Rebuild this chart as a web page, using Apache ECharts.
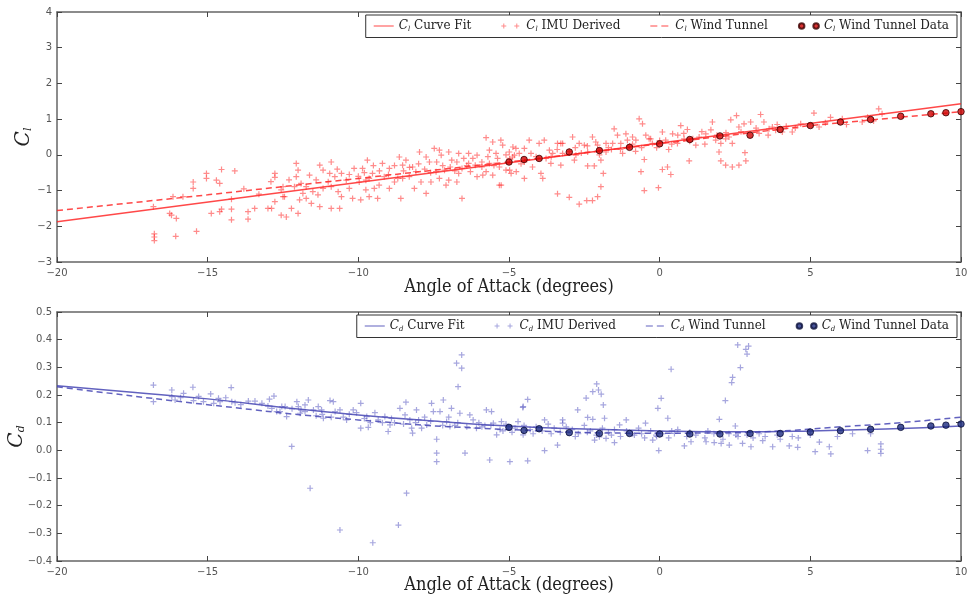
<!DOCTYPE html>
<html>
<head>
<meta charset="utf-8">
<script src="https://cdn.jsdelivr.net/npm/echarts@6/dist/echarts.min.js"></script>
<style>html,body{margin:0;padding:0;background:#fff}#c{width:967px;height:597px}</style>
</head>
<body>
<div id="c"></div>
<script>
// ---------- data ----------
const xTicks = [-20, -15, -10, -5, 0, 5, 10];
const clTicks = [-3, -2, -1, 0, 1, 2, 3, 4];
const cdTicks = [-0.4, -0.3, -0.2, -0.1, 0.0, 0.1, 0.2, 0.3, 0.4, 0.5];

const clFitX = [-20, 10];
const clFitY = [-1.87, 1.43];
const clTunnelX = [-20, -15, -10, -5, 0, 5, 10];
const clTunnelY = [-1.56, -1.12, -0.66, -0.2, 0.31, 0.82, 1.21];

const tunnelAoA = [-5, -4.5, -4, -3, -2, -1, 0, 1, 2, 3, 4, 5, 6, 7, 8, 9, 9.5, 10];
const clTunnelData = [-0.2, -0.13, -0.1, 0.08, 0.12, 0.21, 0.31, 0.43, 0.53, 0.55, 0.71, 0.82, 0.92, 0.99, 1.08, 1.15, 1.18, 1.21];
const cdTunnelData = [0.083, 0.072, 0.078, 0.064, 0.061, 0.061, 0.059, 0.059, 0.059, 0.061, 0.061, 0.066, 0.071, 0.076, 0.083, 0.088, 0.091, 0.095];

const cdFitX = [-20, -17.5, -15, -12.5, -10, -7.5, -5, -2.5, 0, 2.5, 5, 7.5, 10];
const cdFitY = [0.233, 0.21, 0.186, 0.155, 0.128, 0.106, 0.088, 0.077, 0.07, 0.067, 0.07, 0.077, 0.088];
const cdTunnelX = [-20, -15, -10, -5, 0, 2, 4, 6, 8, 10];
const cdTunnelY = [0.23, 0.165, 0.11, 0.075, 0.062, 0.063, 0.07, 0.085, 0.1, 0.12];

const clImu = [
 [-16.77,-2.21],[-16.77,-2.3],[-16.77,-2.4],[-16.8,-1.45],[-16.26,-1.64],[-16.2,-1.69],[-16.04,-1.78],[-16.06,-2.28],
 [-16.15,-1.17],[-15.82,-1.17],[-15.48,-0.76],[-15.48,-0.94],[-15.37,-2.14],[-15.04,-0.52],[-15.04,-0.66],[-14.71,-0.71],
 [-14.54,-0.41],[-14.6,-0.8],[-14.1,-0.45],[-14.88,-1.64],[-14.6,-1.59],[-14.54,-1.52],[-14.21,-1.24],[-14.21,-1.52],
 [-14.21,-1.82],[-13.66,-1.59],[-13.66,-1.8],[-13.44,-1.5],[-13.0,-1.5],[-12.77,-0.52],[-12.77,-0.63],[-12.77,-1.31],
 [-12.56,-0.98],[-12.45,-1.17],[-12.88,-1.5],[-12.5,-0.89],
 [-12.06,-0.24],[-12.0,-0.43],[-12.06,-0.61],[-11.62,-0.57],[-11.28,-0.29],[-11.17,-0.43],[-10.9,-0.2],[-10.95,-0.52],
 [-10.78,-0.61],[-10.56,-0.52],[-10.4,-0.71],[-11.73,-0.89],[-11.51,-1.03],[-11.34,-1.12],[-11.17,-0.94],[-10.9,-0.89],
 [-10.67,-1.03],[-10.56,-1.17],[-11.95,-1.26],[-11.73,-1.22],[-11.56,-1.36],[-11.28,-1.45],[-10.9,-1.5],[-10.62,-1.5],
 [-12.22,-1.5],[-12.0,-1.64],[-12.5,-1.17],[-12.56,-1.69],[-12.39,-1.74],[-12.12,-0.89],[-11.84,-1.08],
 [-9.7,-0.15],[-9.2,-0.24],[-8.97,-0.38],[-9.86,-0.38],[-10.14,-0.38],[-9.53,-0.52],[-9.14,-0.61],[-9.64,-0.66],
 [-9.97,-0.76],[-9.31,-0.85],[-8.97,-0.94],[-10.3,-0.94],[-9.75,-0.98],[-9.47,-0.94],[-10.19,-1.22],[-9.92,-1.26],
 [-9.64,-1.17],[-9.36,-1.22],[-8.8,-0.76],[-8.69,-0.66],[-9.75,-0.71],
 [-8.64,-0.06],[-8.42,-0.15],[-7.97,0.08],[-7.75,-0.06],[-7.48,0.18],[-7.31,0.13],[-7.25,-0.01],[-8.53,-0.29],
 [-8.2,-0.34],[-7.64,-0.2],[-8.09,-0.47],[-8.31,-0.61],[-7.92,-0.76],[-7.59,-0.76],[-7.31,-0.66],[-7.09,-0.85],
 [-8.53,-0.66],[-8.14,-0.94],[-7.75,-1.08],[-8.59,-1.22],[-7.42,-0.47],[-7.14,-0.43],
 [-7.0,0.08],[-6.67,0.04],[-6.34,0.04],[-6.06,-0.01],[-6.5,-0.1],[-6.73,-0.2],[-6.34,-0.24],[-6.12,-0.29],
 [-6.95,-0.34],[-6.56,-0.38],[-5.9,-0.34],[-6.67,-0.52],[-6.28,-0.47],[-6.06,-0.61],[-6.73,-0.76],[-6.56,-1.22],
 [-7.0,-0.71],[-5.87,-0.57],
 [-5.76,0.48],[-5.54,0.36],[-5.27,0.41],[-5.21,0.27],[-5.65,0.13],[-5.43,0.04],[-5.38,-0.1],[-5.65,-0.24],
 [-5.32,-0.34],[-4.98,-0.43],[-5.76,-0.47],[-5.54,-0.57],[-5.32,-0.85],[-4.87,0.22],[-4.82,-0.01],[-4.98,-0.1],[-4.76,-0.47],
 [-4.99,0.08],[-4.88,-0.06],[-5.1,-0.43],[-4.93,-0.52],[-5.26,-0.85],[-4.77,0.18],[-4.66,0.04],[-4.49,0.18],
 [-4.49,-0.2],[-4.49,-0.66],[-4.33,0.41],[-4.27,0.04],[-4.22,-0.34],[-4.0,0.32],[-3.94,-0.52],[-3.88,-0.66],
 [-3.83,0.41],[-3.77,-0.1],[-3.66,0.13],[-3.61,-0.24],[-3.55,0.04],[-3.39,0.32],[-3.28,0.32],[-3.22,0.32],
 [-3.28,-0.29],[-3.22,0.04],[-3.39,-1.09],[-3.0,-1.19],[-2.67,-1.38],[-2.42,-1.28],[-2.23,-1.28],[-2.06,-1.17],
 [-1.95,-0.89],[-1.87,-0.52],[-1.95,-0.15],[-2.89,0.5],[-2.78,-0.01],[-2.83,-0.15],[-2.67,0.32],[-2.5,0.27],
 [-2.39,0.08],[-2.39,-0.31],[-2.17,-0.31],[-2.23,0.5],[-2.12,0.36],[-2.06,0.27],[-2.01,0.13],[-1.78,0.08],
 [-1.78,0.32],[-1.56,0.32],[-1.51,0.73],[-1.4,0.55],[-1.29,0.32],[-1.23,0.04],[-1.12,0.59],[-1.07,0.41],
 [-0.9,0.5],[-0.79,0.41],[-0.68,1.01],[-0.57,0.87],[-0.62,-0.47],[-0.51,-0.13],[-0.51,-1.0],[-0.46,0.55],
 [-0.35,0.45],[-0.24,0.32],[-0.04,-0.92],[0.09,-0.41],[0.26,-0.34],[0.37,-0.55],[0.09,0.64],[0.2,0.41],
 [0.43,0.59],[0.59,0.32],[0.81,0.45],[0.92,0.71],[0.98,-0.17],[1.2,0.27],[1.31,0.5],[1.53,0.59],
 [1.75,0.92],[1.86,0.41],[1.97,0.08],[2.03,-0.17],[2.19,-0.29],[2.41,-0.34],[2.63,-0.29],[2.86,-0.17],
 [2.83,0.06],[2.03,0.32],[2.19,0.45],[2.36,0.98],[2.55,1.1],[2.41,0.32],[2.63,0.78],[2.8,0.87],
 [3.02,0.92],[3.35,1.13],[3.46,0.92],[3.63,0.73],[3.74,0.78],[3.85,0.69],[4.07,0.64],[4.4,0.64],
 [4.68,0.87],[5.12,1.17],[5.29,0.78],[5.67,1.05],[6.06,1.01],[6.72,0.92],[7.27,1.29],[7.38,1.15],
 [-0.1,0.2],[0.3,0.15],[0.6,0.55],[1.0,0.38],[1.5,0.3],[-1.0,0.25],[-0.8,0.1],[-1.6,0.15],[-2.6,0.05],
 [3.3,0.6],[3.9,0.85],[4.5,0.75],[5.5,0.9],[6.2,0.85],[6.9,1.05],[7.1,0.95],[2.2,0.62],[1.7,0.7],[0.7,0.82],
 [-13.8,-0.95],[-13.3,-1.1],[-12.9,-0.75],[-12.3,-0.7],[-11.9,-0.8],[-11.4,-0.7],[-11.0,-0.75],[-10.7,-0.4],
 [-10.3,-0.55],[-10.0,-0.6],[-9.8,-0.5],[-9.5,-0.3],[-9.3,-0.45],[-9.0,-0.55],[-8.8,-0.3],[-8.5,-0.45],
 [-8.3,-0.35],[-8.0,-0.25],[-7.8,-0.4],[-7.6,-0.5],[-7.4,-0.2],[-7.2,-0.3],[-6.9,-0.15],[-6.8,-0.45],
 [-6.4,-0.3],[-6.2,-0.1],[-5.9,-0.2],[-5.7,-0.05],[-5.5,-0.3],[-5.1,0.0],[-4.6,-0.25],[-4.1,-0.05],
 [-3.6,-0.05],[-3.4,0.15],[-3.0,0.1],[-2.8,0.2],[-2.4,0.25],[-2.0,0.0],[-1.7,0.2],[-1.3,0.15],
 [-0.9,0.3],[-0.6,0.2],[-0.3,0.45],[0.0,0.4],[0.4,0.3],[0.8,0.6],[1.1,0.45],[1.4,0.65],
 [1.9,0.55],[2.3,0.5],[2.7,0.65],[3.2,0.75],[3.6,0.55],[4.2,0.8]
];

const cdImu = [
 [-16.8,0.236],[-16.8,0.176],[-16.19,0.218],[-16.19,0.194],[-16.08,0.182],[-15.8,0.206],[-15.49,0.228],[-15.47,0.18],
 [-15.14,0.176],[-14.9,0.204],[-14.64,0.188],[-14.59,0.176],[-14.22,0.227],[-14.2,0.176],[-14.09,0.172],[-13.65,0.178],
 [-13.43,0.178],[-12.8,0.196],[-12.87,0.152],[-12.71,0.14],[-12.54,0.158],[-12.43,0.158],[-12.38,0.122],[-12.21,0.014],
 [-12.04,0.176],[-11.99,0.158],[-11.93,0.134],[-11.77,0.164],[-11.77,0.14],[-11.66,0.182],[-11.6,-0.137],[-11.49,0.146],
 [-11.33,0.158],[-11.22,0.146],[-11.16,0.116],[-10.94,0.18],[-10.83,0.176],[-10.77,0.14],[-10.61,0.146],[-10.61,-0.288],
 [-10.39,0.11],[-10.17,0.146],[-10.06,0.136],[-9.92,0.17],[-9.92,0.08],[-9.72,0.122],[-9.67,0.083],[-9.52,-0.334],
 [-9.45,0.136],[-9.34,0.11],[-9.12,0.122],[-9.01,0.068],[-8.95,0.092],[-8.67,-0.27],[-8.62,0.152],[-8.45,0.128],
 [-8.42,0.174],[-8.4,-0.155],[-8.29,0.11],[-8.23,0.08],[-8.2,0.062],[-8.07,0.146],[-7.9,0.08],[-7.73,0.092],
 [-7.57,0.17],[-7.51,0.14],[-7.4,0.04],[-7.4,-0.01],[-7.4,-0.041],[-7.29,0.14],[-7.18,0.182],[-7.07,0.104],
 [-6.96,0.086],[-6.91,0.152],[-6.74,0.315],[-6.69,0.23],[-6.63,0.134],[-6.57,0.345],[-6.57,0.297],[-6.46,-0.01],
 [-6.3,0.128],[-6.19,0.11],[-6.08,0.08],[-5.75,0.146],[-5.64,-0.035],[-5.58,0.14],[-5.52,0.098],[-5.41,0.056],
 [-5.25,0.104],[-5.03,0.083],[-4.97,-0.041],[-4.7,0.104],[-4.53,0.158],[-4.53,0.056],
 [-13.2,0.17],[-12.95,0.185],[-11.4,0.125],[-10.5,0.12],[-9.6,0.1],[-8.8,0.1],[-8.0,0.11],[-7.8,0.12],[-7.0,0.12],
 [-6.8,0.09],[-6.0,0.1],[-5.8,0.09],[-5.3,0.075],[-5.1,0.095],[-4.8,0.08],
 [-4.54,0.155],[-4.38,0.184],[-4.38,-0.038],[-3.82,0.11],[-3.82,-0.001],[-3.39,0.019],[-3.22,0.11],[-3.22,0.098],
 [-2.72,0.146],[-2.44,0.189],[-2.39,0.119],[-2.22,0.212],[-2.22,0.112],[-2.09,0.24],[-2.03,0.218],[-1.94,0.203],
 [-1.87,0.164],[-1.83,0.116],[-2.16,0.037],[-2.0,0.049],[-1.78,0.043],[-1.5,0.028],[-1.33,0.092],[-1.11,0.11],
 [-0.84,0.055],[-0.47,0.098],[-0.23,0.037],[-0.12,0.055],[-0.06,0.152],[-0.03,-0.001],[0.05,0.188],[0.27,0.116],
 [0.38,0.293],[0.49,0.061],[0.82,0.016],[1.04,0.031],[1.54,0.031],[1.81,0.028],[1.98,0.112],[2.04,0.025],
 [2.18,0.18],[2.31,0.019],[2.39,0.245],[2.42,0.264],[2.51,0.088],[2.59,0.381],[2.68,0.299],[2.86,0.365],
 [2.9,0.348],[2.95,0.377],[2.53,0.055],[2.75,0.025],[3.03,0.013],[3.42,0.035],[3.75,0.013],[4.3,0.016],
 [4.58,0.011],[5.16,-0.005],[5.63,0.013],[5.68,-0.013],[6.9,-0.001],[7.34,0.023],[7.34,0.004],[7.34,-0.011],
 [-4.5,0.09],[-4.3,0.075],[-4.1,0.085],[-3.9,0.07],[-3.7,0.095],[-3.5,0.08],[-3.3,0.065],[-3.1,0.085],
 [-2.9,0.075],[-2.7,0.06],[-2.5,0.09],[-2.3,0.07],[-2.1,0.055],[-1.9,0.08],[-1.7,0.065],[-1.5,0.075],
 [-1.3,0.05],[-1.1,0.07],[-0.9,0.06],[-0.7,0.08],[-0.5,0.045],[-0.3,0.07],[-0.1,0.05],[0.1,0.06],
 [0.3,0.045],[0.6,0.075],[0.9,0.05],[1.2,0.055],[1.5,0.045],[1.8,0.06],[2.1,0.04],[2.6,0.05],
 [3.1,0.045],[3.5,0.05],[4.0,0.04],[4.6,0.045],[5.3,0.03],
 [-15.9,0.19],[-15.3,0.195],[-14.8,0.17],[-14.4,0.19],[-13.9,0.165],[-13.0,0.16],[-12.6,0.14],[-12.2,0.15],
 [-11.9,0.145],[-11.2,0.13],[-10.9,0.12],[-10.3,0.13],[-9.8,0.115],[-9.2,0.1],[-8.9,0.115],[-8.5,0.095],
 [-8.1,0.1],[-7.6,0.105],[-7.2,0.09],[-6.7,0.1],[-6.4,0.085],[-5.9,0.085],[-5.6,0.09],[-5.2,0.07],
 [-4.9,0.065],[-4.2,0.06],[-3.6,0.06],[-2.8,0.05],[-2.4,0.065],[-1.6,0.055],[-0.6,0.06],[0.4,0.07],
 [1.0,0.065],[1.6,0.07],[2.3,0.06],[2.9,0.055],[3.3,0.06],[3.9,0.055],[4.4,0.05],[5.0,0.055],
 [5.9,0.05],[6.4,0.06],[7.0,0.06]
];

// ---------- helpers ----------
const pair = (xs, ys) => xs.map((x, i) => [x, ys[i]]);
const minus = s => String(s).replace('-', '\u2212');
const PLUS = 'path://M4,0H6V4H10V6H6V10H4V6H0V4H4Z';
const TWO_PLUS = 'path://M2,0.5H3V2.5H5V3.5H3V5.5H2V3.5H0V2.5H2Z M15,0.5H16V2.5H18V3.5H16V5.5H15V3.5H13V2.5H15Z M0,0H0.01V6H0Z M19.99,0H20V6H19.99Z';
const TWO_DOTS = 'path://M0.5,3a2.5,2.5 0 1,0 5,0a2.5,2.5 0 1,0 -5,0Z M13.5,3a2.5,2.5 0 1,0 5,0a2.5,2.5 0 1,0 -5,0Z';
const SOLID_ICON = 'path://M0,2.4H20V3.6H0Z M0,0H0.01V6H0Z';
const DASH_ICON = 'path://M0,2.4H7V3.6H0Z M11,2.4H18V3.6H11Z M0,0H0.01V6H0Z M19.99,0H20V6H19.99Z';

const serif = "'DejaVu Serif', serif";
const serifC = "'DejaVu Serif Condensed', 'DejaVu Serif', serif";
const tickFont = { fontFamily: "'DejaVu Sans', sans-serif", fontSize: 10, color: '#555' };
const frame = { show: true, onZero: false, lineStyle: { color: '#666', width: 1.5 } };
const tick = { show: true, inside: true, length: 5, lineStyle: { color: '#444', width: 1 } };

function legendRich() {
  return {
    i: { fontFamily: serif, fontStyle: 'italic', fontSize: 12, color: '#222' },
    s: { fontFamily: serif, fontStyle: 'italic', fontSize: 7, color: '#222', verticalAlign: 'bottom', padding: [6, 0, 0, 0] },
    t: { fontFamily: serif, fontSize: 12, color: '#222' }
  };
}
const legendFmt = name => '{i|C}{s|' + name.charAt(1) + '}{t| ' + name.slice(3) + '}';
function yName(sub) {
  return {
    name: '{i|C}{s|' + sub + '}',
    nameMoveOverlap: false,
    nameTextStyle: {
      rich: {
        i: { fontFamily: serif, fontStyle: 'italic', fontSize: 20, color: '#222' },
        s: { fontFamily: serif, fontStyle: 'italic', fontSize: 11, color: '#222', verticalAlign: 'bottom', padding: [10, 0, 0, 0] }
      }
    }
  };
}

function mainX(grid, gap) {
  return {
    type: 'value', gridIndex: grid, min: -20, max: 10, interval: 5,
    axisLine: frame, axisTick: tick, splitLine: { show: false },
    axisLabel: Object.assign({ margin: 6, formatter: v => minus(v) }, tickFont),
    name: 'Angle of Attack (degrees)', nameLocation: 'middle', nameGap: gap, nameMoveOverlap: false,
    nameTextStyle: { fontFamily: serifC, fontSize: 18, color: '#222' }
  };
}
function topX(grid) {
  return { type: 'value', gridIndex: grid, position: 'top', min: -20, max: 10, interval: 5,
    axisLine: frame, axisTick: tick, axisLabel: { show: false }, splitLine: { show: false } };
}
function rightY(grid, min, max, interval) {
  return { type: 'value', gridIndex: grid, position: 'right', min, max, interval,
    axisLine: frame, axisTick: tick, axisLabel: { show: false }, splitLine: { show: false } };
}
function legendBox(top, names) {
  return {
    right: 10, top: top, orient: 'horizontal', itemGap: 30, itemWidth: 20, itemHeight: 6,
    padding: [5, 8, 5, 8], borderColor: '#333', borderWidth: 1, backgroundColor: '#fff',
    formatter: legendFmt, textStyle: { rich: legendRich() },
    data: [
      { name: names[0], icon: SOLID_ICON },
      { name: names[1], icon: TWO_PLUS },
      { name: names[2], icon: DASH_ICON },
      { name: names[3], icon: TWO_DOTS }
    ]
  };
}

const redLine = 'rgba(255,40,40,0.85)';
const blueLine = 'rgba(70,70,180,0.85)';

const option = {
  animation: false,
  backgroundColor: '#fff',
  grid: [
    { left: 57, right: 6, top: 12, height: 250, outerBoundsMode: 'none', containLabel: false },
    { left: 57, right: 6, top: 312, height: 249, outerBoundsMode: 'none', containLabel: false }
  ],
  xAxis: [mainX(0, 16), topX(0), mainX(1, 15), topX(1)],
  yAxis: [
    Object.assign({
      type: 'value', gridIndex: 0, min: -3, max: 4, interval: 1,
      axisLine: frame, axisTick: tick, splitLine: { show: false },
      axisLabel: Object.assign({ margin: 5, formatter: v => minus(v) }, tickFont),
      nameLocation: 'middle', nameGap: 23, nameRotate: 90
    }, yName('l')),
    rightY(0, -3, 4, 1),
    Object.assign({
      type: 'value', gridIndex: 1, min: -0.4, max: 0.5, interval: 0.1,
      axisLine: frame, axisTick: tick, splitLine: { show: false },
      axisLabel: Object.assign({ margin: 5, formatter: v => minus(Number(v).toFixed(1)) }, tickFont),
      nameLocation: 'middle', nameGap: 30, nameRotate: 90
    }, yName('d')),
    rightY(1, -0.4, 0.5, 0.1)
  ],
  legend: [
    legendBox(15, ['Cl Curve Fit', 'Cl IMU Derived', 'Cl Wind Tunnel', 'Cl Wind Tunnel Data']),
    legendBox(315, ['Cd Curve Fit', 'Cd IMU Derived', 'Cd Wind Tunnel', 'Cd Wind Tunnel Data'])
  ],
  series: [
    { name: 'Cl Curve Fit', type: 'line', xAxisIndex: 0, yAxisIndex: 0, data: pair(clFitX, clFitY),
      symbol: 'none', lineStyle: { color: redLine, width: 1.5 }, itemStyle: { color: redLine }, z: 3 },
    { name: 'Cl IMU Derived', type: 'scatter', xAxisIndex: 0, yAxisIndex: 0, data: clImu,
      symbol: PLUS, symbolSize: 6, itemStyle: { color: 'rgba(255,20,20,0.62)' }, z: 2 },
    { name: 'Cl Wind Tunnel', type: 'line', xAxisIndex: 0, yAxisIndex: 0, data: pair(clTunnelX, clTunnelY),
      symbol: 'none', lineStyle: { color: redLine, width: 1.5, type: [6, 4] }, itemStyle: { color: redLine }, z: 3 },
    { name: 'Cl Wind Tunnel Data', type: 'scatter', xAxisIndex: 0, yAxisIndex: 0, data: pair(tunnelAoA, clTunnelData),
      symbol: 'circle', symbolSize: 6.5, itemStyle: { color: '#d00000', borderColor: '#3a0000', borderWidth: 1 }, z: 5 },

    { name: 'Cd Curve Fit', type: 'line', xAxisIndex: 2, yAxisIndex: 2, data: pair(cdFitX, cdFitY), smooth: true,
      symbol: 'none', lineStyle: { color: blueLine, width: 1.5 }, itemStyle: { color: blueLine }, z: 3 },
    { name: 'Cd IMU Derived', type: 'scatter', xAxisIndex: 2, yAxisIndex: 2, data: cdImu,
      symbol: PLUS, symbolSize: 6, itemStyle: { color: 'rgba(70,70,185,0.6)' }, z: 2 },
    { name: 'Cd Wind Tunnel', type: 'line', xAxisIndex: 2, yAxisIndex: 2, data: pair(cdTunnelX, cdTunnelY), smooth: true,
      symbol: 'none', lineStyle: { color: blueLine, width: 1.5, type: [6, 4] }, itemStyle: { color: blueLine }, z: 3 },
    { name: 'Cd Wind Tunnel Data', type: 'scatter', xAxisIndex: 2, yAxisIndex: 2, data: pair(tunnelAoA, cdTunnelData),
      symbol: 'circle', symbolSize: 6.5, itemStyle: { color: '#1c2a80', borderColor: '#0a0f3a', borderWidth: 1 }, z: 5 }
  ]
};

const chart = echarts.init(document.getElementById('c'), null, { renderer: 'canvas' });
chart.setOption(option);
</script>
</body>
</html>
